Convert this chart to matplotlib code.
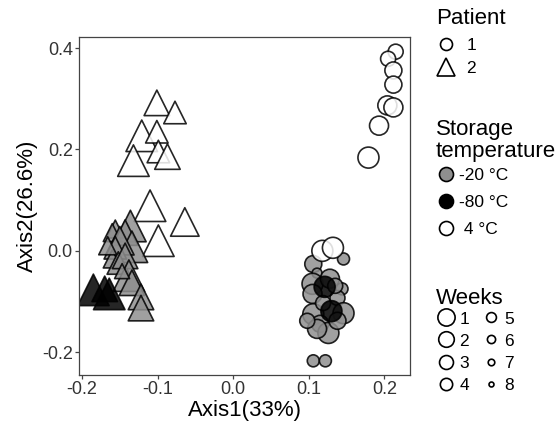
import matplotlib.pyplot as plt
from matplotlib.lines import Line2D

plt.rcParams['font.family'] = ['Liberation Sans', 'DejaVu Sans']

# ordination scores, grouped by patient and storage temperature
# patient 1 (circles)
p1_m20_x = [0.146, 0.106, 0.111, 0.105, 0.128, 0.144, 0.105, 0.138, 0.146, 0.106,
            0.115, 0.126, 0.111, 0.106, 0.122, 0.135, 0.119, 0.098, 0.138]
p1_m20_y = [-0.016, -0.026, -0.044, -0.065, -0.055, -0.075, -0.085, -0.093, -0.123, -0.125,
            -0.144, -0.162, -0.154, -0.217, -0.217, -0.069, -0.103, -0.138, -0.138]
p1_m20_wk = [5, 3, 6, 1, 2, 5, 2, 4, 1, 1, 3, 1, 2, 5, 5, 4, 4, 4, 3]

p1_4_x = [0.215, 0.205, 0.212, 0.212, 0.204, 0.212, 0.193, 0.179, 0.118, 0.132]
p1_4_y = [0.393, 0.379, 0.356, 0.328, 0.287, 0.283, 0.247, 0.184, 0.000, 0.006]
p1_4_wk = [4, 4, 3, 3, 2, 2, 2, 1, 1, 1]

p1_m80_x = [0.121, 0.130]
p1_m80_y = [-0.071, -0.119]
p1_m80_wk = [1, 1]

# patient 2 (triangles)
p2_4_x = [-0.101, -0.077, -0.121, -0.101, -0.099, -0.087, -0.132, -0.110, -0.064, -0.099]
p2_4_y = [0.292, 0.273, 0.227, 0.235, 0.196, 0.186, 0.178, 0.089, 0.057, 0.020]
p2_4_wk = [3, 4, 1, 4, 4, 3, 1, 1, 2, 1]

p2_m20_x = [-0.136, -0.156, -0.160, -0.143, -0.134, -0.150, -0.156, -0.160, -0.152, -0.143,
            -0.138, -0.134, -0.147, -0.122, -0.122, -0.166]
p2_m20_y = [0.049, 0.043, 0.036, 0.036, 0.008, 0.020, 0.006, -0.016, -0.024, -0.010,
            -0.049, -0.063, -0.040, -0.091, -0.113, 0.010]
p2_m20_wk = [1, 5, 5, 3, 1, 2, 4, 5, 4, 3, 1, 3, 6, 3, 3, 5]

p2_m80_x = [-0.185, -0.170, -0.164]
p2_m80_y = [-0.077, -0.075, -0.085]
p2_m80_wk = [1, 3, 1]

weeks = [1, 2, 3, 4, 5, 6, 7, 8]
week_diam = [21, 19, 17, 15, 12, 10, 8, 6]   # marker diameter in px
temp_labels = ['-20 °C', '-80 °C', ' 4 °C']
temp_colors = ['#8f8f8f', 'black', 'white']

diam = dict(zip(weeks, week_diam))
PT = 0.72  # px -> pt at 100 dpi


def sizes(wk, scale=1.0):
    return [(diam[w] * scale * PT) ** 2 for w in wk]


fig = plt.figure(figsize=(5.58, 4.28), dpi=100)
ax = fig.add_axes([0.1416, 0.1238, 0.5932, 0.7898])

kw = dict(edgecolors='black', linewidths=1.2, alpha=0.85)
# triangles (patient 2)
ax.scatter(p2_4_x, p2_4_y, s=sizes(p2_4_wk, 1.5), marker='^', facecolors='white', **kw)
ax.scatter(p2_m20_x, p2_m20_y, s=sizes(p2_m20_wk, 1.5), marker='^', facecolors=temp_colors[0], **kw)
ax.scatter(p2_m80_x, p2_m80_y, s=sizes(p2_m80_wk, 1.5), marker='^', facecolors='black', **kw)
# circles (patient 1)
ax.scatter(p1_m20_x, p1_m20_y, s=sizes(p1_m20_wk), marker='o', facecolors=temp_colors[0], **kw)
ax.scatter(p1_4_x, p1_4_y, s=sizes(p1_4_wk), marker='o', facecolors='white', **kw)
ax.scatter(p1_m80_x, p1_m80_y, s=sizes(p1_m80_wk), marker='o', facecolors='black', **kw)

ax.set_xlim(-0.204, 0.234)
ax.set_ylim(-0.245, 0.422)
ax.set_xticks([-0.2, -0.1, 0.0, 0.1, 0.2])
ax.set_yticks([-0.2, 0.0, 0.2, 0.4])
ax.set_xticklabels(['-0.2', '-0.1', '0.0', '0.1', '0.2'])
ax.set_yticklabels(['-0.2', '0.0', '0.2', '0.4'])
for sp in ax.spines.values():
    sp.set_color('#444444')
    sp.set_linewidth(0.9)
ax.tick_params(length=3, width=0.9, color='#444444', labelsize=13, labelcolor='#333333', pad=1.5)
ax.set_xlabel('Axis1(33%)', fontsize=16, labelpad=1)
ax.set_ylabel('Axis2(26.6%)', fontsize=16, labelpad=3)


def handle(marker, face, d):
    return Line2D([], [], marker=marker, linestyle='none', markersize=d * PT,
                  markerfacecolor=face, markeredgecolor='black', markeredgewidth=1.2)


# legend titles as separate texts, legends without titles below them
LX = 436 / 558
H = 428
fig.text(LX, 1 - 19 / H, 'Patient', fontsize=16, va='center', ha='left')
fig.text(LX, 1 - 140.5 / H, 'Storage\ntemperature', fontsize=16, va='center', ha='left',
         linespacing=1.1)
fig.text(LX, 1 - 299 / H, 'Weeks', fontsize=16, va='center', ha='left')

leg_kw = dict(loc='center left', frameon=False, borderaxespad=0, borderpad=0,
              fontsize=12.5, handlelength=1.2)

h1 = [handle('o', 'white', 12), handle('^', 'white', 18)]
fig.legend(h1, ['1', '2'], bbox_to_anchor=(LX, 1 - 57 / H),
           labelspacing=0.42, handletextpad=0.55, **leg_kw)

h2 = [handle('o', c, 14) for c in temp_colors]
fig.legend(h2, temp_labels, bbox_to_anchor=(LX, 1 - 202.5 / H),
           labelspacing=0.69, handletextpad=0.1, **leg_kw)

h3 = [handle('o', 'white', d * 0.82) for d in week_diam]
fig.legend(h3, [str(w) for w in weeks], ncol=2, bbox_to_anchor=(LX, 1 - 352 / H),
           labelspacing=0.395, columnspacing=0.65, handletextpad=0.15, **leg_kw)

fig.savefig('out.png', dpi=100)
